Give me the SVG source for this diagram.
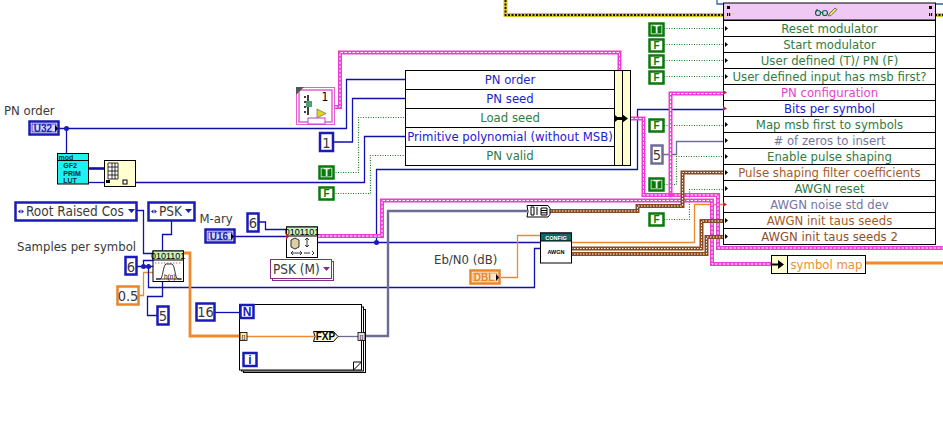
<svg xmlns="http://www.w3.org/2000/svg" width="943" height="437" viewBox="0 0 943 437">
<style>
text{font-family:"DejaVu Sans","Liberation Sans",sans-serif;font-stretch:condensed;font-size:13px;text-anchor:middle;fill:#3a3a3a}
.s{text-anchor:start}
.big{font-size:13.500px}
.num{font-size:14.500px}
.w{fill:none}
.b{stroke:#1010ac;stroke-width:1.3}
.bt{stroke:#1010ac;stroke-width:2.6}
.g{stroke:#1a7a1a;stroke-width:1.2;stroke-dasharray:1 1.5}
.o{stroke:#ef8a2c;stroke-width:1.3}
.ot{stroke:#ef8a2c;stroke-width:2.8}
.gr{stroke:#6c6c96;stroke-width:1.3}
.grt{stroke:#6c6c96;stroke-width:2.4}
.pk{stroke:#ea3ed6;stroke-width:4}
.pki{stroke:#fff;stroke-width:1;stroke-dasharray:2.500 1.500}
.br{stroke:#8a4a20;stroke-width:4}
.bri{stroke:#fff;stroke-width:1;stroke-dasharray:1.500 1.500}
.yb{stroke:#d8c820;stroke-width:4}
.yi{stroke:#111;stroke-width:1.800;stroke-dasharray:2 1.500}
.tl{stroke:#2a6a9a;stroke-width:1.300}
.row{fill:#fff;stroke:#000;stroke-width:1}
.cb{fill:#fff;stroke:#1a1ab8;stroke-width:2.500}
.cg{fill:#fff;stroke:#0a780a;stroke-width:2.500}
.co{fill:#fff;stroke:#e8842a;stroke-width:2.500}
.cgr{fill:#fff;stroke:#6c6c96;stroke-width:2.500}
.tg{fill:#2f7d3f}.tb{fill:#2222cc}.tp{fill:#e63fd2}.tgr{fill:#7474a4}.tbr{fill:#8e4e2a}.to{fill:#a85a24}.tsym{fill:#ef9030}
.ic{fill:#fff;stroke:#000;stroke-width:1}
.yel{fill:#ffffd0;stroke:#000;stroke-width:1}
.hd{fill:#c8f4c0;stroke:#000;stroke-width:1}
.bits{font-family:"Liberation Sans",sans-serif;font-stretch:normal;font-size:9px;fill:#000}
.bool{font-family:"Liberation Sans",sans-serif;font-stretch:normal;font-size:10px;font-weight:bold}
.sm{font-family:"Liberation Sans",sans-serif;font-stretch:normal;font-size:7px;font-weight:bold;fill:#003030}
.tri{fill:#000}
.red{fill:#c8202c}
</style>
<defs>
<g id="tc"><rect class="cg" x="-6.500" y="-5.500" width="14" height="12"/><rect x="-4.500" y="-3.500" width="10" height="8" fill="#0a780a"/><text class="bool" x="0.500" y="4" style="fill:#fff">T</text></g>
<g id="fc"><rect class="cg" x="-6.500" y="-5.500" width="14" height="12"/><text class="bool" x="0.500" y="4" style="fill:#0a780a">F</text></g>
</defs>

<g id="connectors">
  <!-- sequence frame edge -->
  <path class="w yb" d="M505.500 0V15H943"/>
  <path class="w yi" d="M505.500 0V15H943"/>
  <path class="w tl" d="M717 0V4H723M936 4H943"/>

  <!-- PN order and constants into the PN bundle -->
  <path class="w b" d="M59 128.500H346.500V79.500H406"/>
  <path class="w b" d="M66.500 128.500V153"/>
  <path class="w b" d="M333 142H352.500V98.500H406"/>
  <path class="w g" d="M333 172.500H358.500V117.500H406"/>
  <path class="w b" d="M135 182.500H364.500V136.500H406"/>
  <path class="w g" d="M333 193.500H370.500V155.500H406"/>
  <path class="w b" d="M89 182.500H104"/>
  <path class="w bt" d="M89 168.500H104"/>

  <!-- bits per symbol -->
  <path class="w b" d="M318 242.500H540M376.500 242.500V169.500H637.500V109.500H723"/>

  <!-- rate and pulse shaping -->
  <path class="w b" d="M137 210.500H143.500V253.500H153"/>
  <path class="w b" d="M171.500 221V234.500H162.500V251"/>
  <path class="w b" d="M137 266.500H153M143.500 266.500V260.500H153"/>
  <path class="w o" d="M139 295.500H143.500V272.500H153"/>
  <path class="w b" d="M162.500 282V296.500H147.500V315.500H157"/>
  <path class="w b" d="M148.500 266.500V287.500H534.500V248.500H540"/>
  <path class="w ot" d="M184 253H190V336H240"/>
  <path class="w b" d="M215 312.500H240"/>
  <path class="w grt" d="M365 336H388V211H527"/>

  <!-- modulation map -->
  <path class="w b" d="M259 222H265.500V229.500H286"/>
  <path class="w b" d="M235 236.500H286"/>

  <!-- AWGN -->
  <path class="w o" d="M501 277.500H517.500V235.500H540"/>
  <path class="w o" d="M571 242.500H694.500V204.500H723"/>

  <!-- boolean and numeric constants on the main cluster -->
  <path class="w g" d="M664 28.500H723M664 44.500H723M664 60.500H723M664 76.500H723M664 125.500H723"/>
  <path class="w gr" d="M663 154.500H676.500V141.500H723"/>
  <path class="w g" d="M664 184.500H676.500V156.500H723"/>
  <path class="w g" d="M664 219.500H689.500V189.500H723"/>

  <!-- cluster wires -->
  <path class="w pk" d="M335 107H340V52.500H619.500V71"/>
  <path class="w pki" d="M335 107H340V52.500H619.500V71"/>
  <path class="w pk" d="M631 118.500H643.500V195H718V248H943"/>
  <path class="w pki" d="M631 118.500H643.500V195H718V248H943"/>
  <path class="w pk" d="M670.500 195V93.500H723"/>
  <path class="w pki" d="M670.500 195V93.500H723"/>
  <path class="w pk" d="M318 236H382V200.500H712V264H771"/>
  <path class="w pki" d="M318 236H382V200.500H712V264H771"/>

  <!-- filter coefficients and seeds -->
  <path class="w br" d="M550 211H637.500V206H682.500V172.500H723"/>
  <path class="w bri" d="M550 211H637.500V206H682.500V172.500H723"/>
  <path class="w br" d="M571 248.500H701.500V221H723"/>
  <path class="w bri" d="M571 248.500H701.500V221H723"/>
  <path class="w br" d="M571 254H706.500V237H723"/>
  <path class="w bri" d="M571 254H706.500V237H723"/>

  <path class="w ot" d="M866 263H943"/>

  <!-- junction dots -->
  <circle cx="66.500" cy="128.500" r="2.500" fill="#1a1ab8"/>
  <circle cx="143.500" cy="266.500" r="2.500" fill="#1a1ab8"/>
  <circle cx="148.500" cy="266.500" r="2.500" fill="#1a1ab8"/>
  <circle cx="376.500" cy="242.500" r="2.500" fill="#1a1ab8"/>
  <circle cx="670.500" cy="195" r="2.500" fill="#ea3ed6"/>
</g>

<g id="modulator-cluster">
  <rect x="723.500" y="3" width="212" height="17" fill="#f0c8f4" stroke="#000"/>
  <rect class="row" x="723.500" y="20.500" width="212" height="16"/>
  <rect class="row" x="723.500" y="36.500" width="212" height="16"/>
  <rect class="row" x="723.500" y="52.500" width="212" height="16"/>
  <rect class="row" x="723.500" y="68.500" width="212" height="16"/>
  <rect class="row" x="723.500" y="84.500" width="212" height="16"/>
  <rect class="row" x="723.500" y="100.500" width="212" height="16"/>
  <rect class="row" x="723.500" y="116.500" width="212" height="16"/>
  <rect class="row" x="723.500" y="132.500" width="212" height="16"/>
  <rect class="row" x="723.500" y="148.500" width="212" height="16"/>
  <rect class="row" x="723.500" y="164.500" width="212" height="16"/>
  <rect class="row" x="723.500" y="180.500" width="212" height="16"/>
  <rect class="row" x="723.500" y="196.500" width="212" height="16"/>
  <rect class="row" x="723.500" y="212.500" width="212" height="16"/>
  <rect class="row" x="723.500" y="228.500" width="212" height="16"/>
  <text class="tg" x="829.500" y="33">Reset modulator</text>
  <text class="tg" x="829.500" y="49">Start modulator</text>
  <text class="tg" x="829.500" y="65">User defined (T)/ PN (F)</text>
  <text class="tg" x="829.500" y="81">User defined input has msb first?</text>
  <text class="tp" x="829.500" y="97">PN configuration</text>
  <text class="tb" x="829.500" y="113">Bits per symbol</text>
  <text class="tg" x="829.500" y="129">Map msb first to symbols</text>
  <text class="tgr" x="829.500" y="145"># of zeros to insert</text>
  <text class="tg" x="829.500" y="161">Enable pulse shaping</text>
  <text class="to" x="829.500" y="177">Pulse shaping filter coefficients</text>
  <text class="tg" x="829.500" y="193">AWGN reset</text>
  <text class="tgr" x="829.500" y="209">AWGN noise std dev</text>
  <text class="to" x="829.500" y="225">AWGN init taus seeds</text>
  <text class="tbr" x="829.500" y="241">AWGN init taus seeds 2</text>
  <!-- read/write glyphs in the header -->
  <g fill="none" stroke="#0a6a4a" stroke-width="1.200">
    <circle cx="818" cy="13" r="2.500"/><circle cx="825" cy="13" r="2.500"/><path d="M820 12.500h2.500M815.500 12l2-3"/>
  </g>
  <path d="M829 14l6-6 2 1.500-6 6-2.500 .5z" fill="#f0e060" stroke="#555" stroke-width=".8"/>
  <path class="tri" d="M727 6h3v3h-3zM727 13h1.200v3h-1.200zM729 13h1.200v3h-1.200zM929 6h3v3h-3zM929 13h1.200v3h-1.200zM931 13h1.200v3h-1.200z"/>
  <!-- terminal marks -->
  <path class="tri" d="M725 26l3 2.500-3 2.500zM725 42l3 2.500-3 2.500zM725 58l3 2.500-3 2.500zM725 74l3 2.500-3 2.500zM725 122l3 2.500-3 2.500zM725 138l3 2.500-3 2.500zM725 154l3 2.500-3 2.500zM725 170l3 2.500-3 2.500zM725 186l3 2.500-3 2.500zM725 218l3 2.500-3 2.500zM725 234l3 2.500-3 2.500z"/>
  <path class="red" d="M723 90l4 2.500-4 2.500zM723 106l4 2.500-4 2.500zM723 202l4 2.500-4 2.500z"/>
</g>

<g id="pn-bundle">
  <rect class="row" x="405.500" y="70.500" width="209.500" height="19"/>
  <rect class="row" x="405.500" y="89.500" width="209.500" height="19"/>
  <rect class="row" x="405.500" y="108.500" width="209.500" height="19"/>
  <rect class="row" x="405.500" y="127.500" width="209.500" height="19"/>
  <rect class="row" x="405.500" y="146.500" width="209.500" height="19"/>
  <rect class="yel" x="614.500" y="70.500" width="8" height="95"/>
  <rect class="yel" x="622.500" y="70.500" width="8" height="95"/>
  <path d="M616 118.500H626" stroke="#000" stroke-width="3"/>
  <path class="tri" d="M622 114l6 4.500-6 4.500zM615 115l4 3.500-4 3.500z"/>
  <text class="tb" x="510" y="84">PN order</text>
  <text class="tb" x="510" y="103">PN seed</text>
  <text class="tg" x="510" y="122">Load seed</text>
  <text class="tb" x="510" y="141">Primitive polynomial (without MSB)</text>
  <text class="tg" x="510" y="160">PN valid</text>
</g>

<g id="pn-config-vi">
  <rect x="296.500" y="87.500" width="38" height="37" fill="#fff" stroke="#e45fd0" stroke-width="1"/>
  <rect x="299" y="90" width="33" height="32" fill="#fff" stroke="#e45fd0" stroke-width="1.500"/>
  <path d="M296 87h8l-8 8z" fill="#555"/>
  <path d="M308 95v20M304 97h2M304 102h2M304 107h2M304 112h2" stroke="#000" stroke-width="1.500"/>
  <rect x="306" y="101" width="6" height="6" fill="#4aa070"/>
  <path d="M317 109l9 4.500-9 4.500z" fill="#e8d020" stroke="#555" stroke-width=".6"/>
  <rect x="308" y="118" width="17" height="6" fill="#fff" stroke="#c040c0"/>
  <text x="325" y="101" style="font-size:12px;fill:#000">1</text>
</g>

<g id="pn-order-control">
  <text class="s" x="4" y="115">PN order</text>
  <rect class="cb" x="29.500" y="121.500" width="29" height="13"/>
  <rect x="32" y="124" width="24" height="8" fill="#d8d8f8" stroke="#1a1ab8" stroke-width=".8"/>
  <text class="bool" x="43" y="132" style="fill:#1a1ab8">U32</text>
  <path class="tri" d="M55 125l3 3.500-3 3.500z"/>
</g>

<g id="gf2-prim-lut">
  <rect x="57.500" y="153.500" width="31" height="30.500" fill="#20f0f0" stroke="#000"/>
  <path d="M57.500 160.500H88.500" stroke="#000"/>
  <text class="s sm" x="58.500" y="159.500">mod</text>
  <text class="sm" x="70" y="168">GF2</text>
  <text class="sm" x="72" y="175.500">PRIM</text>
  <text class="sm" x="70" y="183">LUT</text>
</g>

<g id="array-subset">
  <rect class="yel" x="104.500" y="160.500" width="31" height="26"/>
  <path d="M108 163h10v16h-10zM108 167h10M108 171h10M108 175h10M112 163v16M115 163v16" fill="#fff" stroke="#000" stroke-width=".8"/>
  <rect x="106" y="180" width="4" height="3" fill="#000"/>
  <rect x="123" y="180" width="4" height="4" fill="#fff" stroke="#000"/>
</g>

<g id="pn-constants">
  <rect class="cb" x="320" y="133" width="13" height="18"/>
  <text class="num" x="326.500" y="147.500">1</text>
  <use href="#tc" x="326" y="172"/>
  <use href="#fc" x="326" y="193"/>
</g>

<g id="filter-type-ring">
  <rect class="cb" x="15.500" y="202.500" width="121" height="18"/>
  <text class="s big" x="26" y="216">Root Raised Cos</text>
  <path d="M18 211.500l2.500-2v4zM24 211.500l-2.500-2v4z" fill="#1a1ab8"/>
  <path d="M128 209h7l-3.500 4z" fill="#1a1ab8"/>
</g>
<g id="modulation-ring">
  <rect class="cb" x="148.500" y="202.500" width="46" height="18"/>
  <text class="s big" x="159" y="216">PSK</text>
  <path d="M151 211.500l2.500-2v4zM157 211.500l-2.500-2v4z" fill="#1a1ab8"/>
  <path d="M185 209h7l-3.500 4z" fill="#1a1ab8"/>
</g>
<g id="samples-per-symbol">
  <text class="s" x="17" y="251">Samples per symbol</text>
  <rect class="cb" x="125.500" y="257" width="11" height="17.500"/>
  <text class="num" x="131" y="271.500">6</text>
</g>
<g id="rolloff-constant">
  <rect class="co" x="117.500" y="286.500" width="21" height="18"/>
  <text class="num" x="128" y="300.500">0.5</text>
</g>
<g id="filter-taps-constant">
  <rect class="cb" x="157.500" y="306.500" width="11" height="18"/>
  <text class="num" x="163" y="320.500">5</text>
</g>

<g id="pulse-filter">
  <rect class="ic" x="153" y="251" width="30.500" height="30.500"/>
  <rect class="hd" x="153" y="251" width="30.500" height="9"/>
  <text class="bits" x="168.200" y="259">0101101</text>
  <path d="M155 263h27" stroke="#c02040" stroke-width=".7" stroke-dasharray="1.500 1.500"/>
  <path d="M156 279h4c3 0 3-14 6-15h6c3 1 3 15 6 15h4M156 279h25" fill="none" stroke="#000" stroke-width=".8"/>
  <text class="s" x="164" y="279" style="font-family:'Liberation Sans',sans-serif;font-size:6.500px;fill:#000">h(n)</text>
</g>

<g id="for-loop">
  <rect x="243.500" y="309.500" width="122" height="63" fill="#fff" stroke="#000"/>
  <rect x="241.500" y="307" width="122" height="64" fill="#fff" stroke="#000"/>
  <rect x="239.500" y="304.500" width="122" height="65.500" fill="#fff" stroke="#000"/>
  <path d="M353.500 370V362H361.500" fill="#fff" stroke="#000"/>
  <path d="M353.500 370L361.500 362" stroke="#000"/>
  <path class="w o" d="M247 336.500H314"/>
  <path class="w gr" d="M338 336.500H358"/>
  <rect class="cb" x="240.500" y="305" width="13" height="13"/>
  <text x="247" y="316" style="font-family:'Liberation Sans',sans-serif;font-size:12px;font-weight:bold;fill:#1a1ab8">N</text>
  <rect class="cb" x="243.500" y="353" width="13" height="13"/>
  <text x="250" y="364" style="font-family:'Liberation Sans',sans-serif;font-size:12px;font-weight:bold;fill:#1a1ab8">i</text>
  <rect x="240" y="332.500" width="7" height="8" fill="#ffe8a0" stroke="#000" stroke-width=".8"/>
  <rect x="358" y="332.500" width="7" height="8" fill="#e0e0e0" stroke="#000" stroke-width=".8"/>
  <text x="243.500" y="339" style="font-family:'Liberation Sans',sans-serif;font-size:6px;fill:#000">[]</text>
  <text x="361.500" y="339" style="font-family:'Liberation Sans',sans-serif;font-size:6px;fill:#000">[]</text>
  <path d="M313.500 331.500h20l4.500 5-4.500 5h-20l1.500-5z" fill="#ffffd0" stroke="#000"/>
  <text x="325.500" y="340" style="font-family:'Liberation Sans',sans-serif;font-size:10px;font-weight:bold;fill:#000">FXP</text>
</g>
<g id="coefficient-count">
  <rect class="cb" x="196.500" y="303.500" width="18" height="17"/>
  <text class="num" x="205.500" y="317">16</text>
</g>

<g id="m-ary-control">
  <text class="s" x="199.500" y="223">M-ary</text>
  <rect class="cb" x="205.500" y="229.500" width="29" height="13"/>
  <rect x="208" y="232" width="24" height="8" fill="#d8d8f8" stroke="#1a1ab8" stroke-width=".8"/>
  <text class="bool" x="219" y="240" style="fill:#1a1ab8">U16</text>
  <path class="tri" d="M231 233l3 3.500-3 3.500z"/>
</g>
<g id="m-ary-constant">
  <rect class="cb" x="247.500" y="213.500" width="11" height="18"/>
  <text class="num" x="253" y="227.500">6</text>
</g>
<g id="symbol-map-vi">
  <rect class="ic" x="286.500" y="227" width="31" height="30.500"/>
  <rect class="hd" x="286.500" y="227" width="31" height="9"/>
  <text class="bits" x="302" y="235">0101101</text>
  <path d="M291 240l4-2 4 2v7l-4 2-4-2z" fill="#e0d0a0" stroke="#000" stroke-width=".8"/>
  <path d="M307 238v9M305 240l2-2 2 2M305 245l2 2 2-2M292 253h9M310 253h-6M293 251l-2 2 2 2M300 251l2 2-2 2M312 251l2 2-2 2" fill="none" stroke="#000" stroke-width=".8"/>
  <path class="red" d="M286 233l3 3.500-3 3.500z"/>
</g>
<g id="map-type-ring">
  <rect x="272.500" y="261.500" width="61" height="19" fill="#fff" stroke="#803080"/>
  <rect x="270.500" y="259.500" width="61" height="19" fill="#fff" stroke="#803080"/>
  <text class="s big" x="273" y="274">PSK (M)</text>
  <path d="M323 267h7l-3.500 4z" fill="#803080"/>
</g>

<g id="build-array">
  <path d="M527 205.500h21l2 3v6l-2 2.500h-21l1-5.500z" fill="#fff" stroke="#000"/>
  <path d="M531 207v8h3v-8zM537 207v8M541 208h6v7h-6zM541 210.500h6M541 212.800h6" fill="none" stroke="#000"/>
</g>

<g id="awgn-config">
  <rect class="ic" x="540.500" y="233" width="31" height="30"/>
  <rect x="540.500" y="233" width="31" height="8" fill="#0f6868" stroke="#000"/>
  <text class="sm" x="556" y="239.500" style="font-size:5.500px;fill:#fff">CONFIG</text>
  <text class="sm" x="556" y="254" style="font-size:5.500px;fill:#000">AWGN</text>
</g>
<g id="ebn0-control">
  <text class="s" x="434" y="264">Eb/N0 (dB)</text>
  <rect class="co" x="470.500" y="270.500" width="29" height="13"/>
  <rect x="473" y="273" width="24" height="8" fill="#ffe8c8" stroke="#e8842a" stroke-width=".8"/>
  <text class="bool" x="484" y="281" style="fill:#e8842a">DBL</text>
  <path class="tri" d="M496 274l3 3.500-3 3.500z"/>
</g>

<g id="main-constants">
  <use href="#tc" x="656" y="29"/>
  <use href="#fc" x="656" y="45"/>
  <use href="#fc" x="656" y="61"/>
  <use href="#fc" x="656" y="77"/>
  <use href="#fc" x="656" y="125"/>
  <rect class="cgr" x="651.500" y="145.500" width="11" height="18"/>
  <text class="num" x="657" y="159.500">5</text>
  <use href="#tc" x="656" y="184"/>
  <use href="#fc" x="656" y="219"/>
</g>

<g id="symbol-map">
  <rect class="row" x="771.500" y="255.500" width="94" height="18"/>
  <rect class="yel" x="771.500" y="255.500" width="16" height="18"/>
  <path d="M771 264.500h9" stroke="#000" stroke-width="2"/>
  <path class="tri" d="M778 260l6 4.500-6 4.500z"/>
  <text class="tsym" x="826.500" y="268.500">symbol map</text>
</g>
</svg>
